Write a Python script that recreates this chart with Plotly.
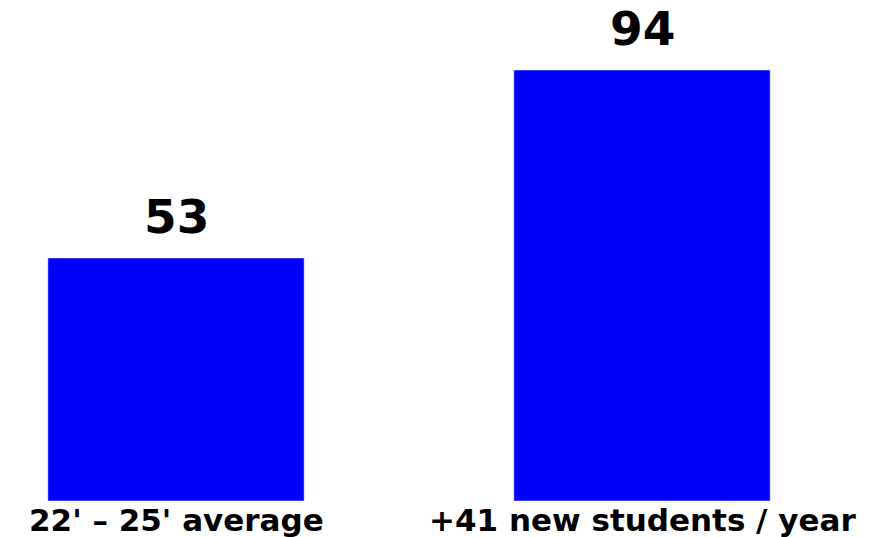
import plotly.graph_objects as go

categories = ["22' – 25' average", "+41 new students / year"]
values = [53, 94]
bar_color = "#0000FF"

fig = go.Figure()
fig.add_trace(go.Bar(x=list(range(len(categories))), y=values, marker_color=bar_color,
                     width=0.55, showlegend=False, hoverinfo="skip"))

for i, (c, v) in enumerate(zip(categories, values)):
    fig.add_annotation(x=i, y=v, xref="x", yref="y", text=str(v), showarrow=False,
                       yanchor="bottom", yshift=12,
                       font=dict(family="DejaVu Sans", size=47, color="black", weight="bold"))
    fig.add_annotation(x=i, y=0, xref="x", yref="paper", text=c, showarrow=False,
                       yanchor="top", yshift=1,
                       font=dict(family="DejaVu Sans", size=31, color="black", weight="bold"))

fig.update_layout(
    width=892, height=537,
    margin=dict(l=0, r=0, t=0, b=36),
    plot_bgcolor="white", paper_bgcolor="white",
    xaxis=dict(range=[-0.3777, 1.5365], visible=False),
    yaxis=dict(range=[0, 109.27], visible=False),
)
fig.write_html("out.html")
